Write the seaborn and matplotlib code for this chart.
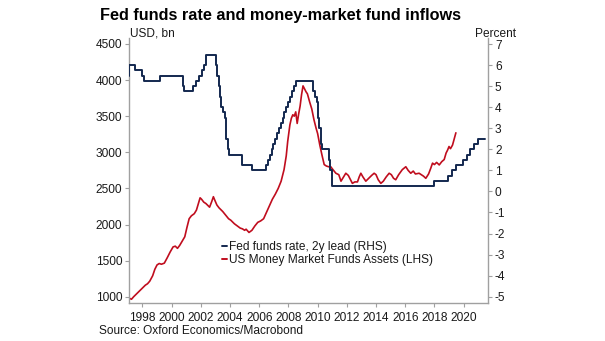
import numpy as np
import pandas as pd
import matplotlib
matplotlib.use("Agg")
import matplotlib.pyplot as plt
from matplotlib.lines import Line2D
import seaborn as sns

# ---- data ----
mmf_year = [1997.05, 1997.15, 1997.25, 1997.4, 1997.6, 1997.8, 1998.0, 1998.2, 1998.35, 1998.5,
            1998.7, 1998.85, 1999.0, 1999.15, 1999.3, 1999.5, 1999.7, 1999.9, 2000.1, 2000.25,
            2000.4, 2000.55, 2000.75, 2000.9, 2001.05, 2001.2, 2001.35, 2001.55, 2001.7, 2001.85,
            2001.95, 2002.05, 2002.2, 2002.35, 2002.5, 2002.6, 2002.75, 2002.86, 2002.95, 2003.1,
            2003.25, 2003.4, 2003.5, 2003.7, 2003.9, 2004.05, 2004.3, 2004.5, 2004.7, 2004.85,
            2005.0, 2005.1, 2005.3, 2005.5, 2005.7, 2005.9, 2006.1, 2006.3, 2006.5, 2006.7,
            2006.9, 2007.1, 2007.3, 2007.5, 2007.7, 2007.85, 2007.95, 2008.1, 2008.2, 2008.3,
            2008.4, 2008.5, 2008.6, 2008.7, 2008.8, 2008.9, 2009.0, 2009.1, 2009.2, 2009.3,
            2009.45, 2009.6, 2009.75, 2009.9, 2010.0, 2010.15, 2010.3, 2010.45, 2010.6, 2010.75,
            2010.9, 2011.05, 2011.25, 2011.45, 2011.6, 2011.75, 2011.93, 2012.1, 2012.25, 2012.38,
            2012.55, 2012.73, 2012.85, 2012.96, 2013.1, 2013.3, 2013.5, 2013.7, 2013.87, 2014.0,
            2014.15, 2014.33, 2014.5, 2014.7, 2014.9, 2015.05, 2015.2, 2015.35, 2015.55, 2015.8,
            2016.04, 2016.2, 2016.38, 2016.55, 2016.7, 2016.95, 2017.1, 2017.25, 2017.41, 2017.6,
            2017.75, 2017.87, 2018.0, 2018.15, 2018.33, 2018.5, 2018.67, 2018.8, 2018.9, 2019.0,
            2019.1, 2019.24, 2019.35, 2019.47]
mmf_assets = [950, 975, 965, 1000, 1040, 1080, 1120, 1160, 1180, 1215,
              1290, 1380, 1440, 1460, 1450, 1465, 1540, 1620, 1690, 1700,
              1670, 1710, 1780, 1830, 1960, 2080, 2120, 2150, 2200, 2300,
              2370, 2350, 2310, 2290, 2260, 2240, 2320, 2385, 2340, 2270,
              2230, 2200, 2180, 2130, 2080, 2060, 2010, 1980, 1950, 1940,
              1920, 1935, 1890, 1920, 1980, 2030, 2050, 2080, 2170, 2260,
              2350, 2420, 2500, 2600, 2760, 2950, 3150, 3380, 3470, 3520,
              3500, 3560, 3400, 3530, 3640, 3800, 3920, 3880, 3840, 3810,
              3700, 3600, 3450, 3330, 3260, 3100, 2960, 2830, 2810, 2800,
              2800, 2760, 2710, 2690, 2600, 2650, 2710, 2680, 2620, 2570,
              2590, 2590, 2660, 2710, 2660, 2600, 2640, 2680, 2710, 2690,
              2620, 2570, 2600, 2660, 2710, 2690, 2640, 2620, 2690, 2760,
              2800, 2750, 2710, 2740, 2700, 2710, 2690, 2670, 2640, 2700,
              2780, 2850, 2830, 2860, 2825, 2870, 2900, 2990, 3030, 3080,
              3050, 3100, 3180, 3270]

# Fed funds target (upper bound), dates of change, already shifted 2 years ahead
ff_year = [1997.0, 1997.085, 1997.51, 1997.965, 1998.08, 1999.23, 2000.745, 2000.79, 2000.88,
           2001.495, 2001.645, 2001.875, 2002.085, 2002.215, 2002.375, 2003.005, 2003.08,
           2003.215, 2003.295, 2003.37, 2003.485, 2003.64, 2003.71, 2003.75, 2003.85, 2003.945,
           2004.85, 2005.48, 2006.495, 2006.61, 2006.72, 2006.86, 2006.955, 2007.085, 2007.22,
           2007.335, 2007.495, 2007.605, 2007.72, 2007.835, 2007.95, 2008.08, 2008.235, 2008.355,
           2008.49, 2009.71, 2009.83, 2009.945, 2010.055, 2010.08, 2010.21, 2010.33, 2010.77,
           2010.825, 2010.96, 2017.96, 2018.955, 2019.2, 2019.45, 2019.95, 2020.215, 2020.45,
           2020.735, 2020.965, 2021.49]
ff_rate = [5.5, 6.0, 5.75, 5.5, 5.25, 5.5, 5.25, 5.0, 4.75,
           5.0, 5.25, 5.5, 5.75, 6.0, 6.5, 6.0, 5.5,
           5.0, 4.5, 4.0, 3.75, 3.5, 3.0, 2.5, 2.0, 1.75,
           1.25, 1.0, 1.25, 1.5, 1.75, 2.0, 2.25, 2.5, 2.75,
           3.0, 3.25, 3.5, 3.75, 4.0, 4.25, 4.5, 4.75, 5.0,
           5.25, 4.75, 4.5, 4.25, 3.5, 3.0, 2.25, 2.0, 1.5,
           1.0, 0.25, 0.5, 0.75, 1.0, 1.25, 1.5, 1.75, 2.0,
           2.25, 2.5, 2.5]

x_ticks = list(range(1998, 2021, 2))
left_ticks = list(range(1000, 4501, 500))
right_ticks = list(range(-5, 8))

mmf = pd.DataFrame({"year": mmf_year, "assets": mmf_assets})
ff = pd.DataFrame({"year": ff_year, "rate": ff_rate})

# ---- style ----
sns.set_theme(style="white")
plt.rcParams["font.family"] = ["Liberation Sans", "DejaVu Sans"]
plt.rcParams["axes.unicode_minus"] = False

BLUE = "#13284f"
RED = "#c00d1e"
GRAY = "#a0a0a0"
TXT = "#1a1a1a"

fig = plt.figure(figsize=(6.05, 3.41), dpi=100)
ax = fig.add_axes([129 / 605, 1 - 303 / 341, (488 - 129) / 605, (303 - 38) / 341])
ax2 = ax.twinx()

sns.lineplot(data=mmf, x="year", y="assets", ax=ax, color=RED, lw=1.2,
             estimator=None, legend=False)
sns.lineplot(data=ff, x="year", y="rate", ax=ax2, color=BLUE, lw=1.4,
             estimator=None, legend=False, drawstyle="steps-post")

ax.set_xlim(1997.08, 2021.67)
ax.set_ylim(913, 4583)
ax2.set_ylim(-5.30, 7.285)
ax.set_xticks(x_ticks)
ax.set_yticks(left_ticks)
ax2.set_yticks(right_ticks)
ax.set_xlabel("")
ax.set_ylabel("")
ax2.set_ylabel("")

for a in (ax, ax2):
    a.grid(False)
    for s in a.spines.values():
        s.set_color(GRAY)
        s.set_linewidth(1.0)
    a.spines["top"].set_visible(False)
    a.tick_params(axis="both", which="major", length=3, width=0.8, color=GRAY,
                  labelsize=8.6, labelcolor=TXT, pad=2)
ax.spines["right"].set_visible(False)
ax2.spines["left"].set_visible(False)
ax2.spines["bottom"].set_visible(False)
ax.tick_params(axis="x", pad=3.5)
ax.tick_params(left=True, bottom=True)
ax2.tick_params(right=True)

# texts
fig.text(100 / 605, 1 - 15.6 / 341, "Fed funds rate and money-market fund inflows",
         fontsize=11.7, fontweight="bold", color="#000000", ha="left", va="center")
fig.text(130 / 605, 1 - 34 / 341, "USD, bn", fontsize=8.6, color=TXT, ha="left", va="center")
fig.text(516 / 605, 1 - 34 / 341, "Percent", fontsize=8.6, color=TXT, ha="right", va="center")
fig.text(99 / 605, 1 - 331.5 / 341, "Source: Oxford Economics/Macrobond", fontsize=8.6,
         color=TXT, ha="left", va="center")

handles = [Line2D([], [], color=BLUE, lw=1.4), Line2D([], [], color=RED, lw=1.4)]
labels = ["Fed funds rate, 2y lead (RHS)", "US Money Market Funds Assets (LHS)"]
fig.legend(handles, labels, loc="center left",
           bbox_to_anchor=(221.5 / 605, 1 - 253.9 / 341), frameon=False,
           fontsize=8.6, handlelength=0.5, handletextpad=0.15, labelspacing=0.1,
           borderpad=0, borderaxespad=0, labelcolor=TXT)

fig.savefig("out.png", dpi=100)
